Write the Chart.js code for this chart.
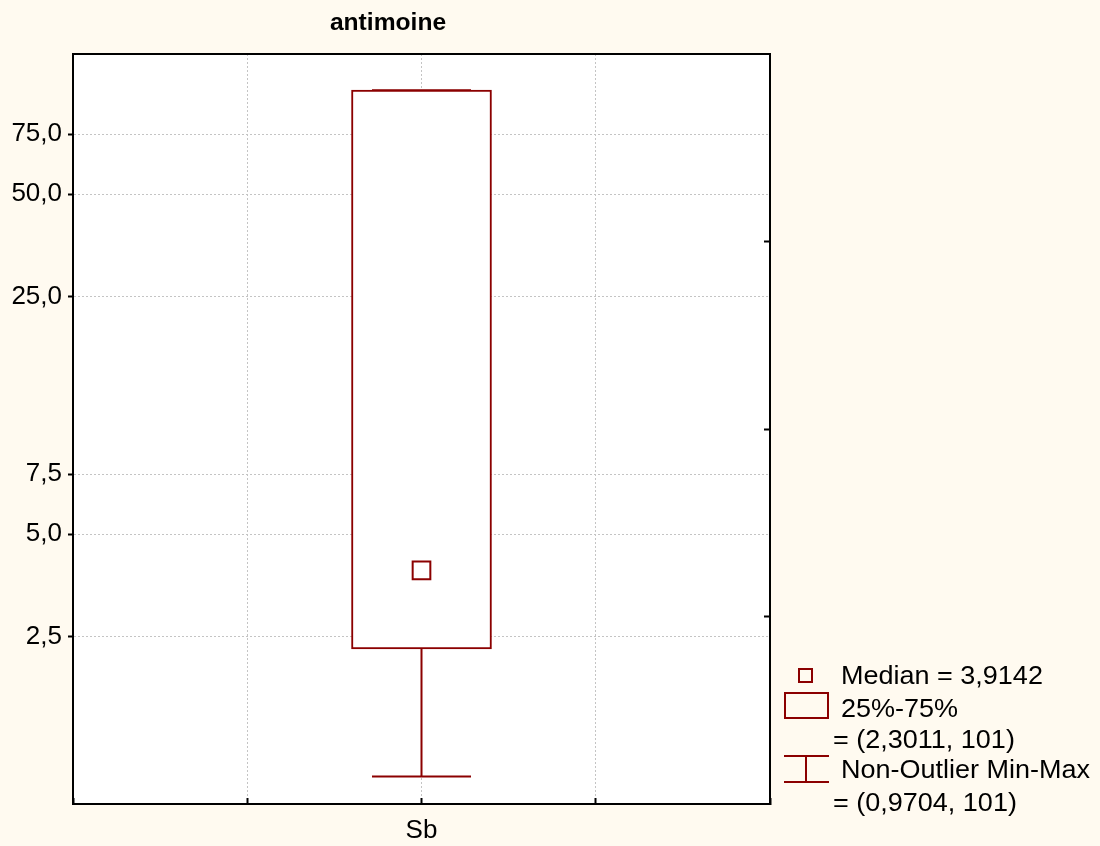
<!DOCTYPE html>
<html>
<head>
<meta charset="utf-8">
<script src="https://cdn.jsdelivr.net/npm/chart.js@4.4.1/dist/chart.umd.min.js"></script>
<style>
html, body { margin: 0; padding: 0; background: #FFFAF0; }
#wrap { position: relative; width: 1100px; height: 846px; overflow: hidden; }
#c { position: absolute; left: 0; top: 0; }
.txt { position: absolute; font-family: "Liberation Sans", Arial, sans-serif; color: #000; white-space: nowrap; }
.lg { font-size: 25px; line-height: 30px; transform: scaleX(1.08); transform-origin: 0 50%; }
.sym { position: absolute; box-sizing: border-box; }
#title { left: 238px; width: 300px; top: 8px; text-align: center; font-size: 23px; font-weight: bold; line-height: 28px; transform: scaleX(1.07); }
</style>
</head>
<body>
<div id="wrap">
  <canvas id="c" width="1100" height="846"></canvas>
  <div id="title" class="txt"></div>
  <div id="legend"></div>
</div>
<script>
// ---- data ----
const chartTitle = 'antimoine';
const categories = ['Sb'];
const categoryPositions = [2];
const q1Values = [2.3011];
const q3Values = [101];
const medianValues = [3.9142];
const minValues = [0.9704];
const maxValues = [101];
const yTickValues = [2.5, 5, 7.5, 25, 50, 75];
const xTickValues = [0, 1, 2, 3, 4];
const rightTickValues = [1, 2, 3];
const legendTexts = ['Median = 3,9142', '25%-75%', '= (2,3011, 101)', 'Non-Outlier Min-Max', '= (0,9704, 101)'];

// ---- styles ----
const RED = '#8B0000';
const FONT = '"Liberation Sans", Arial, sans-serif';
const GRID = '#c4c4c4';

document.getElementById('title').textContent = chartTitle;

const fmt = v => Number(v).toFixed(1).replace('.', ',');

const plotBg = {
  id: 'plotBg',
  beforeDraw(chart) {
    const a = chart.chartArea, ctx = chart.ctx;
    ctx.save();
    ctx.fillStyle = '#ffffff';
    ctx.fillRect(a.left, a.top, a.right - a.left, a.bottom - a.top);
    ctx.restore();
  }
};

const whiskers = {
  id: 'whiskers',
  beforeDatasetsDraw(chart) {
    const xs = chart.scales.x, ys = chart.scales.y, ctx = chart.ctx;
    const capHalf = 49.5;
    ctx.save();
    ctx.strokeStyle = RED;
    ctx.lineWidth = 2;
    categories.forEach((c, i) => {
      const x = xs.getPixelForValue(categoryPositions[i]);
      const yMin = ys.getPixelForValue(minValues[i]);
      const yQ1 = ys.getPixelForValue(q1Values[i]);
      const yQ3 = ys.getPixelForValue(q3Values[i]);
      const yMax = ys.getPixelForValue(maxValues[i]);
      ctx.beginPath();
      ctx.moveTo(x, yQ1); ctx.lineTo(x, yMin);
      ctx.moveTo(x - capHalf, yMin); ctx.lineTo(x + capHalf, yMin);
      ctx.moveTo(x, yQ3); ctx.lineTo(x, yMax);
      ctx.moveTo(x - capHalf, yMax); ctx.lineTo(x + capHalf, yMax);
      ctx.stroke();
    });
    ctx.restore();
  }
};

const tickFont = { family: FONT, size: 26 };

new Chart(document.getElementById('c'), {
  type: 'bar',
  data: {
    datasets: [
      {
        type: 'scatter',
        label: 'Median',
        data: categories.map((c, i) => ({ x: categoryPositions[i], y: medianValues[i] })),
        pointStyle: 'rect',
        pointRadius: 12.5,
        pointHoverRadius: 12.5,
        pointBackgroundColor: '#ffffff',
        pointBorderColor: RED,
        pointBorderWidth: 2,
        xAxisID: 'x',
        yAxisID: 'y'
      },
      {
        type: 'bar',
        label: '25%-75%',
        data: categories.map((c, i) => ({ x: categoryPositions[i], y: [q1Values[i], q3Values[i]] })),
        backgroundColor: '#ffffff',
        borderColor: RED,
        borderWidth: 2,
        borderSkipped: false,
        barThickness: 140,
        xAxisID: 'x',
        yAxisID: 'y'
      }
    ]
  },
  options: {
    responsive: false,
    animation: false,
    devicePixelRatio: 1,
    layout: { padding: { top: 54, left: 0, right: 0, bottom: 0 } },
    plugins: {
      legend: { display: false },
      title: { display: false },
      tooltip: { enabled: false }
    },
    scales: {
      x: {
        type: 'linear',
        position: 'bottom',
        min: 0, max: 4,
        offset: false,
        afterBuildTicks: s => { s.ticks = xTickValues.map(v => ({ value: v })); },
        afterFit: s => { s.height = 42; },
        ticks: {
          autoSkip: false, maxRotation: 0,
          font: tickFont, color: '#000', padding: 17,
          callback: v => { const k = categoryPositions.indexOf(v); return k >= 0 ? categories[k] : ''; }
        },
        grid: { offset: false, color: GRID, lineWidth: 1, tickLength: -6, tickColor: '#000', tickWidth: 2 },
        border: { display: true, color: '#000', width: 2, dash: [2, 2] }
      },
      x2: {
        type: 'linear',
        position: 'top',
        display: true,
        min: 0, max: 4,
        afterFit: s => { s.height = 0; },
        ticks: { display: false },
        grid: { drawOnChartArea: false, drawTicks: false },
        border: { display: true, color: '#000', width: 2 }
      },
      y: {
        type: 'logarithmic',
        position: 'left',
        min: 0.805, max: 129,
        bounds: 'data',
        beginAtZero: false,
        afterBuildTicks: s => { s.ticks = yTickValues.map(v => ({ value: v })); },
        afterFit: s => { s.width = 73; },
        ticks: { font: tickFont, color: '#000', padding: 6, autoSkip: false, callback: v => fmt(v) },
        grid: { color: GRID, lineWidth: 1, tickLength: 5, tickColor: '#000', tickWidth: 2 },
        border: { display: true, color: '#000', width: 2, dash: [2, 2] }
      },
      y2: {
        type: 'linear',
        position: 'right',
        display: true,
        min: 0, max: 4,
        afterBuildTicks: s => { s.ticks = rightTickValues.map(v => ({ value: v })); },
        afterFit: s => { s.width = 330; },
        ticks: { display: false },
        grid: { drawOnChartArea: false, tickLength: -6, tickColor: '#000', tickWidth: 2 },
        border: { display: true, color: '#000', width: 2 }
      }
    }
  },
  plugins: [plotBg, whiskers]
});

// ---- legend (HTML text) ----
const legend = document.getElementById('legend');
function addSym(style) {
  const d = document.createElement('div');
  d.className = 'sym';
  Object.assign(d.style, style);
  legend.appendChild(d);
}
addSym({ left: '798px', top: '668px', width: '15px', height: '15px', border: '2px solid ' + RED });
addSym({ left: '784px', top: '692px', width: '45px', height: '27px', border: '2px solid ' + RED });
addSym({ left: '784px', top: '755px', width: '45px', height: '2px', background: RED });
addSym({ left: '784px', top: '781px', width: '45px', height: '2px', background: RED });
addSym({ left: '805px', top: '755px', width: '2px', height: '28px', background: RED });

const legendPos = [[841, 659.5], [841, 693], [833, 723.5], [841, 754], [833, 786.5]];
legendTexts.forEach((t, i) => {
  const d = document.createElement('div');
  d.className = 'txt lg';
  d.style.left = legendPos[i][0] + 'px';
  d.style.top = legendPos[i][1] + 'px';
  d.textContent = t;
  legend.appendChild(d);
});
</script>
</body>
</html>
